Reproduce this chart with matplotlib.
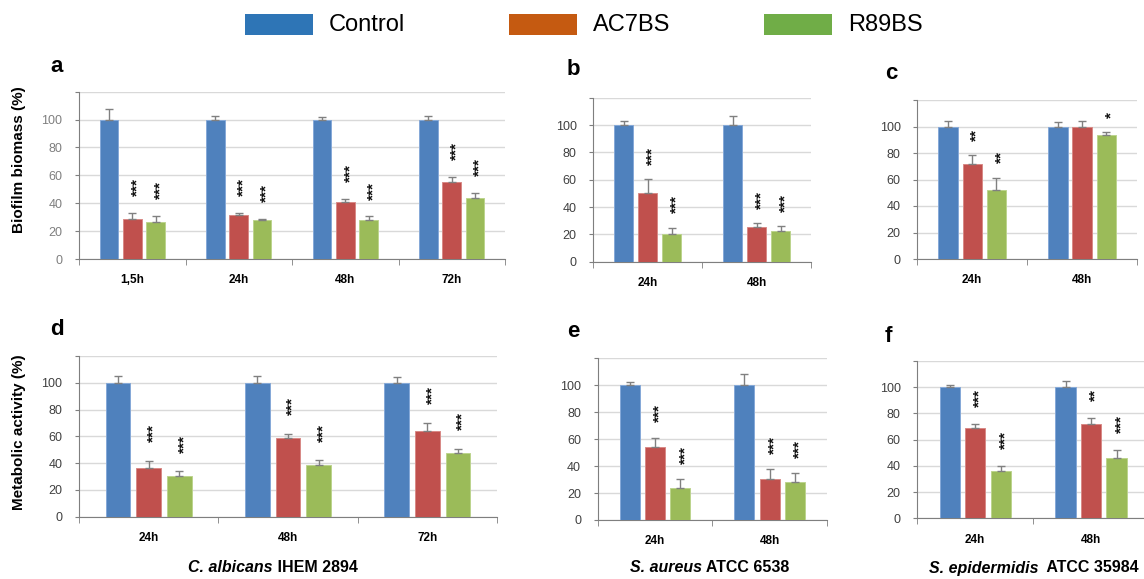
import numpy as np
import matplotlib
matplotlib.use('Agg')
import matplotlib.pyplot as plt
from matplotlib.patches import Rectangle
from matplotlib.transforms import ScaledTranslation

plt.rcParams['font.family'] = ['Liberation Sans', 'DejaVu Sans']

# series and colours
series = ['Control', 'AC7BS', 'R89BS']
bar_colors = ['#4f81bd', '#c0504d', '#9bbb59']
edge_colors = ['#86a9d8', '#d88a87', '#bcd48e']
legend_colors = ['#2e75b6', '#c55a11', '#70ad47']
ytick_values = [0, 20, 40, 60, 80, 100, 120]
ytick_labels = ['0', '20', '40', '60', '80', '100', '']

# a - biofilm biomass, C. albicans
times_a = ['1,5h', '24h', '48h', '72h']
ctrl_a = [100, 100, 100, 100]
ctrl_a_err = [7.4, 2.4, 2, 2.4]
ac7_a = [28.6, 31.7, 41, 55.5]
ac7_a_err = [4.3, 1.2, 2.3, 3.4]
r89_a = [26.5, 27.9, 28, 44]
r89_a_err = [4.3, 0.7, 2.5, 3.6]
ac7_a_stars = ['***', '***', '***', '***']
r89_a_stars = ['***', '***', '***', '***']

# b - biofilm biomass, S. aureus
times_b = ['24h', '48h']
ctrl_b = [100, 100]
ctrl_b_err = [2.7, 6.8]
ac7_b = [50.6, 25.2]
ac7_b_err = [9.8, 3.2]
r89_b = [20, 22.5]
r89_b_err = [4.9, 3.4]
ac7_b_stars = ['***', '***']
r89_b_stars = ['***', '***']

# c - biofilm biomass, S. epidermidis
times_c = ['24h', '48h']
ctrl_c = [100, 100]
ctrl_c_err = [4, 3.3]
ac7_c = [72, 100]
ac7_c_err = [6.3, 4]
r89_c = [52, 93.5]
r89_c_err = [9.3, 2]
ac7_c_stars = ['**', '']
r89_c_stars = ['**', '*']

# d - metabolic activity, C. albicans
times_d = ['24h', '48h', '72h']
ctrl_d = [100, 100, 100]
ctrl_d_err = [5.2, 5.2, 4]
ac7_d = [36.4, 58.7, 64]
ac7_d_err = [5.2, 3.2, 6]
r89_d = [30.4, 38.3, 47.5]
r89_d_err = [3.5, 3.7, 3]
ac7_d_stars = ['***', '***', '***']
r89_d_stars = ['***', '***', '***']

# e - metabolic activity, S. aureus
times_e = ['24h', '48h']
ctrl_e = [100, 100]
ctrl_e_err = [2.5, 8.4]
ac7_e = [54.5, 30.2]
ac7_e_err = [6.6, 7.4]
r89_e = [23.5, 28]
r89_e_err = [6.7, 6.7]
ac7_e_stars = ['***', '***']
r89_e_stars = ['***', '***']

# f - metabolic activity, S. epidermidis
times_f = ['24h', '48h']
ctrl_f = [100, 100]
ctrl_f_err = [2, 4.5]
ac7_f = [69.2, 71.8]
ac7_f_err = [3.1, 5]
r89_f = [36.1, 46.3]
r89_f_err = [3.9, 5.9]
ac7_f_stars = ['***', '**']
r89_f_stars = ['***', '***']

W, H = 1144, 579
fig = plt.figure(figsize=(W / 100, H / 100), dpi=100)


def rect(l, r, t, b):
    # pixel box -> figure fraction
    return [l / W, 1 - b / H, (r - l) / W, (b - t) / H]


star_fs = 11
star_shift = ScaledTranslation(0.57 * star_fs / 72, 0, fig.dpi_scale_trans)


def draw_panel(ax, times, vals, errs, stars, gap, labcolor):
    x = np.arange(len(times))
    offs = [-0.22, 0, 0.22]
    for k in range(3):
        ax.bar(x + offs[k], vals[k], 0.175, color=bar_colors[k],
               edgecolor=edge_colors[k], linewidth=0.7, zorder=3)
        ax.errorbar(x + offs[k], vals[k], yerr=[np.zeros(len(x)), errs[k]],
                    fmt='none', ecolor='#808080', elinewidth=1, capsize=3,
                    capthick=1, zorder=4)
    for k in (1, 2):
        for i in range(len(x)):
            s = stars[k - 1][i]
            if s:
                ax.text(x[i] + offs[k], vals[k][i] + errs[k][i] + gap, s,
                        rotation=90, rotation_mode='anchor', ha='left',
                        va='baseline', fontsize=star_fs, fontweight='bold',
                        color='#111111',
                        transform=ax.transData + star_shift, zorder=5)
    ax.set_xlim(-0.5, len(x) - 0.5)
    ax.set_ylim(0, 120)
    ax.set_yticks(ytick_values)
    ax.set_yticklabels(ytick_labels)
    ax.yaxis.grid(True, color='#d9d9d9', linewidth=1)
    ax.set_axisbelow(True)
    for sp in ['top', 'right']:
        ax.spines[sp].set_visible(False)
    for sp in ['left', 'bottom']:
        ax.spines[sp].set_color('#7f7f7f')
    ax.set_xticks(x)
    ax.set_xticklabels(times, fontweight='bold', fontsize=8.5)
    ax.tick_params(axis='x', which='major', length=0, pad=11)
    ax.set_xticks(np.arange(-0.5, len(x)), minor=True)
    ax.tick_params(axis='x', which='minor', length=4, color='#7f7f7f')
    ax.tick_params(axis='y', length=3, color='#7f7f7f', pad=9,
                   labelsize=9, labelcolor=labcolor)


ax_a = fig.add_axes(rect(79, 505, 91.7, 259))
draw_panel(ax_a, times_a, [ctrl_a, ac7_a, r89_a],
           [ctrl_a_err, ac7_a_err, r89_a_err], [ac7_a_stars, r89_a_stars],
           12, '#7f7f7f')
ax_b = fig.add_axes(rect(593.3, 811.3, 97.7, 261.7))
draw_panel(ax_b, times_b, [ctrl_b, ac7_b, r89_b],
           [ctrl_b_err, ac7_b_err, r89_b_err], [ac7_b_stars, r89_b_stars],
           10.5, '#404040')
ax_c = fig.add_axes(rect(917.3, 1137, 100, 259))
draw_panel(ax_c, times_c, [ctrl_c, ac7_c, r89_c],
           [ctrl_c_err, ac7_c_err, r89_c_err], [ac7_c_stars, r89_c_stars],
           11, '#404040')
ax_d = fig.add_axes(rect(79, 497, 356, 516.7))
draw_panel(ax_d, times_d, [ctrl_d, ac7_d, r89_d],
           [ctrl_d_err, ac7_d_err, r89_d_err], [ac7_d_stars, r89_d_stars],
           14, '#404040')
ax_e = fig.add_axes(rect(597.7, 827, 358.3, 520))
draw_panel(ax_e, times_e, [ctrl_e, ac7_e, r89_e],
           [ctrl_e_err, ac7_e_err, r89_e_err], [ac7_e_stars, r89_e_stars],
           11.5, '#404040')
ax_f = fig.add_axes(rect(917.3, 1149, 361, 518.3))
draw_panel(ax_f, times_f, [ctrl_f, ac7_f, r89_f],
           [ctrl_f_err, ac7_f_err, r89_f_err], [ac7_f_stars, r89_f_stars],
           12.5, '#404040')

# panel letters
for letter, px, py in [('a', 50, 72), ('b', 567, 75), ('c', 885, 79),
                       ('d', 50, 335), ('e', 567, 337), ('f', 885, 342)]:
    fig.text(px / W, 1 - py / H, letter, fontsize=16, fontweight='bold',
             ha='left', va='baseline')

# y labels
fig.text(19 / W, 1 - 160 / H, 'Biofilm biomass (%)', rotation=90,
         ha='center', va='center', fontsize=11, fontweight='bold')
fig.text(19 / W, 1 - 432 / H, 'Metabolic activity (%)', rotation=90,
         ha='center', va='center', fontsize=11, fontweight='bold')

# species labels (italic part + strain)
renderer = fig.canvas.get_renderer()
for ital, rest, cx in [('C. albicans', ' IHEM 2894', 273),
                       ('S. aureus', ' ATCC 6538', 710),
                       ('S. epidermidis', '  ATCC 35984', 1034)]:
    t1 = fig.text(0, 1 - 568 / H, ital, fontsize=11.5, fontweight='bold',
                  style='italic', ha='left', va='center')
    t2 = fig.text(0, 1 - 568 / H, rest, fontsize=11.5, fontweight='bold',
                  ha='left', va='center')
    w1 = t1.get_window_extent(renderer).width
    w2 = t2.get_window_extent(renderer).width
    x0 = cx - (w1 + w2) / 2
    t1.set_x(x0 / W)
    t2.set_x((x0 + w1) / W)

# legend drawn on the figure
for name, col, bx in zip(series, legend_colors, [245, 509, 764]):
    fig.add_artist(Rectangle((bx / W, 1 - 35 / H), 68 / W, 21 / H,
                             facecolor=col, edgecolor='none',
                             transform=fig.transFigure))
    fig.text((bx + 84) / W, 1 - 25 / H, name, fontsize=17,
             ha='left', va='center')

fig.savefig('out.png', dpi=100)
